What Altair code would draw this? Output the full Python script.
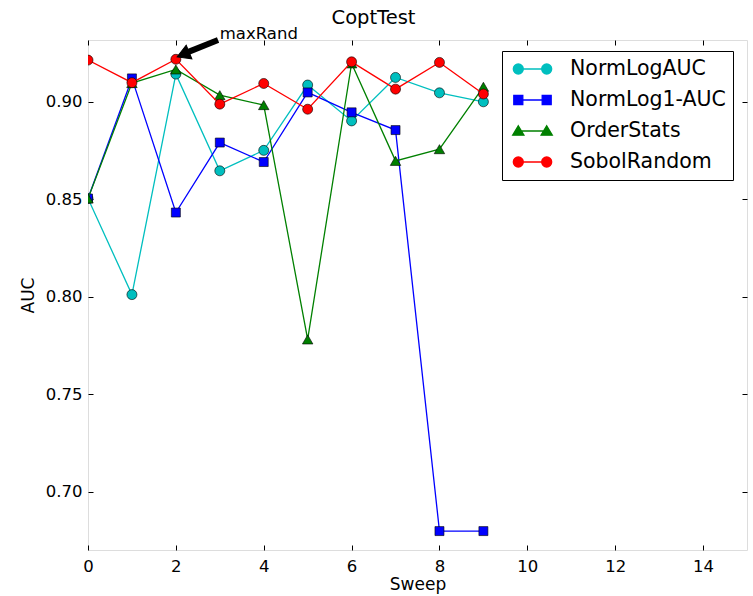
import altair as alt
import pandas as pd

# ---------------- data ----------------
sweeps = [0, 1, 2, 3, 4, 5, 6, 7, 8, 9]
series_names = ["NormLogAUC", "NormLog1-AUC", "OrderStats", "SobolRandom"]
norm_log_auc = [0.8503, 0.8010, 0.9141, 0.8645, 0.8750, 0.9085, 0.8901, 0.9124, 0.9045, 0.8999]
norm_log1_auc = [0.8503, 0.9119, 0.8431, 0.8790, 0.8690, 0.9047, 0.8945, 0.8854, 0.6797, 0.6797]
order_stats = [0.8503, 0.9095, 0.9165, 0.9033, 0.8982, 0.7780, 0.9196, 0.8696, 0.8756, 0.9076]
sobol_random = [0.9213, 0.9097, 0.9217, 0.8987, 0.9093, 0.8961, 0.9204, 0.9064, 0.9201, 0.9039]

x_ticks = [0, 2, 4, 6, 8, 10, 12, 14]
y_ticks = [0.70, 0.75, 0.80, 0.85, 0.90]
x_domain = [0, 15]
y_domain = [0.67, 0.9316]

# annotation ("maxRand" arrow pointing at the SobolRandom point at sweep 2)
annot_label = ["maxRand"]
annot_text_x = [3.0]
annot_text_y = [0.9316]
arrow_tail_x = [2.96]
arrow_tail_y = [0.9316]
arrow_end_x = [2.23]
arrow_end_y = [0.9250]
arrow_head_x = [2.165]
arrow_head_y = [0.9242]

# ---------------- styles ----------------
series_colors = ["#00bfbf", "#0000ff", "#008000", "#ff0000"]
series_shapes = ["circle", "square", "triangle-up", "circle"]
marker_sizes = [100, 81, 110, 100]
FONT = "DejaVu Sans"
W, H = 659, 510

values = [norm_log_auc, norm_log1_auc, order_stats, sobol_random]
df = pd.DataFrame(
    [
        {"sweep": s, "auc": v, "series": name}
        for name, vals in zip(series_names, values)
        for s, v in zip(sweeps, vals)
    ]
)

xscale = alt.Scale(domain=x_domain, nice=False, zero=False)
yscale = alt.Scale(domain=y_domain, nice=False, zero=False)
base = alt.Chart(df)

# main axes (labels + titles, no outward ticks)
axis_layer = base.mark_line(opacity=0).encode(
    x=alt.X(
        "sweep:Q",
        scale=xscale,
        axis=alt.Axis(
            values=x_ticks, tickSize=0, labelPadding=8, labelFontSize=16.5,
            labelFont=FONT, labelColor="black", labelFlush=False,
            title="Sweep", titleFont=FONT, titleFontSize=17,
            titleFontWeight="normal", titleColor="black", titlePadding=2,
            domain=False, grid=False,
        ),
    ),
    y=alt.Y(
        "auc:Q",
        scale=yscale,
        axis=alt.Axis(
            values=y_ticks, format=".2f", tickSize=0, labelPadding=6,
            labelFontSize=16.5, labelFont=FONT, labelColor="black",
            labelFlush=False, title="AUC", titleFont=FONT, titleFontSize=17,
            titleFontWeight="normal", titleColor="black", titlePadding=8,
            domain=False, grid=False,
        ),
    ),
    detail="series:N",
)


def tick_axis(orient, vals):
    return alt.Axis(
        orient=orient, offset=-5, tickSize=5, tickWidth=1, tickColor="black",
        values=vals, labels=False, domain=False, grid=False, title=None,
    )


ticks_bl = base.mark_point(opacity=0).encode(
    x=alt.X("sweep:Q", scale=xscale, axis=tick_axis("bottom", x_ticks)),
    y=alt.Y("auc:Q", scale=yscale, axis=tick_axis("left", y_ticks)),
)
ticks_tr = base.mark_point(opacity=0).encode(
    x=alt.X("sweep:Q", scale=xscale, axis=tick_axis("top", x_ticks)),
    y=alt.Y("auc:Q", scale=yscale, axis=tick_axis("right", y_ticks)),
)

series_layers = []
for name, color, shape, size in zip(series_names, series_colors, series_shapes, marker_sizes):
    sub = base.transform_filter(alt.datum.series == name)
    enc = dict(
        x=alt.X("sweep:Q", scale=xscale, axis=None),
        y=alt.Y("auc:Q", scale=yscale, axis=None),
    )
    series_layers.append(sub.mark_line(color=color, strokeWidth=1.3, clip=True).encode(**enc))
    series_layers.append(
        sub.mark_point(
            filled=True, fill=color, shape=shape, size=size, stroke="black",
            strokeWidth=0.6, opacity=1, clip=True,
        ).encode(**enc)
    )

# annotation
annot_df = pd.DataFrame({
    "label": annot_label, "tx": annot_text_x, "ty": annot_text_y,
    "ax": arrow_tail_x, "ay": arrow_tail_y, "ex": arrow_end_x, "ey": arrow_end_y,
    "hx": arrow_head_x, "hy": arrow_head_y,
})
annot = alt.Chart(annot_df)
annot_text = annot.mark_text(
    align="left", baseline="alphabetic", dy=-1, fontSize=16.5, font=FONT, color="black"
).encode(
    x=alt.X("tx:Q", scale=xscale, axis=None),
    y=alt.Y("ty:Q", scale=yscale, axis=None),
    text="label:N",
)
annot_shaft = annot.mark_rule(color="black", strokeWidth=6).encode(
    x=alt.X("ax:Q", scale=xscale, axis=None),
    y=alt.Y("ay:Q", scale=yscale, axis=None),
    x2="ex:Q",
    y2="ey:Q",
)
annot_head = annot.mark_point(
    shape="triangle-left", angle=337.5, size=220, filled=True, fill="black",
    stroke="black", strokeWidth=1, opacity=1,
).encode(
    x=alt.X("hx:Q", scale=xscale, axis=None),
    y=alt.Y("hy:Q", scale=yscale, axis=None),
)


# legend symbols: line with two markers, drawn as custom paths (unit = 10 px)
def circ(cx, r=0.5):
    return f"M{cx - r},0A{r},{r} 0 1,0 {cx + r},0A{r},{r} 0 1,0 {cx - r},0Z"


def sq(cx, h=0.45):
    return f"M{cx - h},{-h}L{cx + h},{-h}L{cx + h},{h}L{cx - h},{h}Z"


def tri(cx):
    return f"M{cx},-0.52L{cx + 0.56},0.42L{cx - 0.56},0.42Z"


c1, c2 = -0.17, 2.67
seg = f"M{c1},0L{c2},0"
legend_paths = [
    seg + circ(c1) + circ(c2),
    seg + sq(c1) + sq(c2),
    seg + tri(c1) + tri(c2),
    seg + circ(c1) + circ(c2),
]

leg = alt.Legend(
    title=None, orient="none", legendX=414, legendY=11, padding=7,
    rowPadding=9, symbolSize=400, symbolStrokeWidth=1.3, symbolOpacity=1,
    labelFontSize=20.5, labelFont=FONT, labelColor="black", labelOffset=39,
    labelLimit=400, strokeColor="black", fillColor="white", cornerRadius=0,
)
legend_layer = alt.Chart(pd.DataFrame({"series": series_names})).transform_filter(
    "false"
).mark_point(filled=True, opacity=1).encode(
    color=alt.Color("series:N", scale=alt.Scale(domain=series_names, range=series_colors), legend=leg),
    shape=alt.Shape("series:N", scale=alt.Scale(domain=series_names, range=legend_paths), legend=leg),
    stroke=alt.Stroke("series:N", scale=alt.Scale(domain=series_names, range=series_colors), legend=leg),
)

chart = (
    alt.layer(
        axis_layer, ticks_bl, ticks_tr, *series_layers,
        annot_shaft, annot_head, annot_text, legend_layer,
    )
    .resolve_axis(x="independent", y="independent")
    .properties(
        width=W,
        height=H,
        title=alt.TitleParams(
            "CoptTest", font=FONT, fontSize=19.5, fontWeight="normal",
            color="black", anchor="middle", baseline="alphabetic", offset=-17,
            dx=-44, frame="group",
        ),
        autosize=alt.AutoSizeParams(type="none"),
        padding={"left": 88, "top": 40, "right": 6, "bottom": 46},
    )
    .configure_view(stroke="black", strokeWidth=1.2, fill="white")
    .configure(background="white")
)

chart.save("out.html", embed_options={"renderer": "svg", "actions": False})
